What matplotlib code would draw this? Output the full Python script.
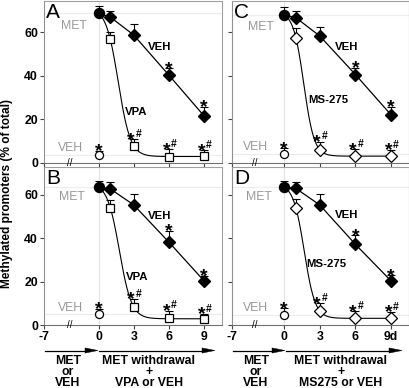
import numpy as np
import matplotlib
matplotlib.use("Agg")
import matplotlib.pyplot as plt
from matplotlib.lines import Line2D
from matplotlib.patches import Polygon
import matplotlib.transforms as mtransforms

plt.rcParams['font.family'] = ['Liberation Sans', 'DejaVu Sans']

# ---------------- data ----------------
days = [1, 3, 6, 9]

A_met, A_met_err = 68.7, 3.3
A_ctl, A_ctl_err = 3.5, 2.0
A_veh = [67.0, 58.7, 40.2, 21.4]
A_veh_err = [3.0, 5.3, 3.3, 4.3]
A_trt = [56.8, 7.6, 2.7, 3.0]
A_trt_err = [3.5, 3.2, 3.5, 2.6]

B_met, B_met_err = 63.5, 3.0
B_ctl, B_ctl_err = 4.9, 2.5
B_veh = [62.8, 55.4, 38.2, 20.3]
B_veh_err = [3.2, 5.1, 5.2, 2.3]
B_trt = [54.1, 8.4, 3.1, 2.6]
B_trt_err = [3.6, 3.6, 3.5, 2.5]

C_met, C_met_err = 68.0, 3.5
C_ctl, C_ctl_err = 3.8, 2.7
C_veh = [66.7, 58.3, 40.5, 21.9]
C_veh_err = [3.1, 4.3, 3.2, 3.8]
C_trt = [57.5, 5.8, 3.0, 3.0]
C_trt_err = [4.3, 3.8, 3.1, 2.8]

D_met, D_met_err = 63.5, 3.0
D_ctl, D_ctl_err = 4.6, 3.1
D_veh = [63.0, 55.4, 37.2, 20.3]
D_veh_err = [3.0, 5.1, 4.3, 2.7]
D_trt = [54.1, 6.5, 3.1, 3.1]
D_trt_err = [3.9, 3.5, 3.3, 3.0]

veh_star_days = [6, 9]
trt_star_days = [3, 6, 9]

bottom_ticks_left = ['-7', '0', '3', '6', '9']
bottom_ticks_right = ['-7', '0', '3', '6', '9d']

W, H = 410, 388
fig = plt.figure(figsize=(W / 100, H / 100), dpi=100)


def px_axes(l, t, r, b):
    return fig.add_axes([l / W, 1 - b / H, (r - l) / W, (b - t) / H])


def logistic_fit(x, y):
    x = np.asarray(x, float)
    y = np.asarray(y, float)
    best = None
    for c in np.linspace(0.5, 3.0, 126):
        for s in np.linspace(0.1, 1.5, 71):
            f = 1 / (1 + np.exp((x - c) / s))
            M = np.vstack([np.ones_like(f), f]).T
            coef = np.linalg.lstsq(M, y, rcond=None)[0]
            err = np.sum((M @ coef - y) ** 2)
            if best is None or err < best[0]:
                best = (err, c, s, coef)
    _, c, s, coef = best
    return lambda xx: coef[0] + coef[1] / (1 + np.exp((np.asarray(xx) - c) / s))


def star(ax, x, y, dx=0):
    ax.annotate('*', (x, y), xytext=(dx, -4.0), textcoords='offset points',
                ha='center', va='baseline', fontsize=14, fontweight='bold', zorder=6)


def starhash(ax, x, y):
    ax.annotate('*', (x, y), xytext=(-1.8, -4.0), textcoords='offset points',
                ha='center', va='baseline', fontsize=14, fontweight='bold', zorder=6)
    ax.annotate('#', (x, y), xytext=(1.4, 1.6), textcoords='offset points',
                ha='left', va='baseline', fontsize=7.5, fontweight='bold', zorder=6)


def panel(ax, letter, met, met_err, ctl, ctl_err, veh, veh_err, trt, trt_err,
          trt_marker, trt_label, lab_pos, xlim, ylim, left, bottom, ticklabels):
    ax.set_xlim(*xlim)
    ax.set_ylim(*ylim)
    for sp in ax.spines.values():
        sp.set_color('#a0a0a0')
        sp.set_linewidth(0.8)
    ax.spines['bottom'].set_color('#707070')
    ax.spines['left'].set_color('#909090')

    # faint reference lines
    ax.axvline(0, color='#e4e4e4', lw=0.8, zorder=0)
    ax.axhline(met, color='#ececec', lw=0.8, zorder=0)
    ax.axhline(ctl, color='#ececec', lw=0.8, zorder=0)

    # VEH straight line
    ax.plot([0] + days, [met] + veh, color='k', lw=0.9, zorder=2)
    # treatment fitted curve
    fit = logistic_fit([0] + days, [met] + trt)
    xs = np.linspace(0, 9, 400)
    ax.plot(xs, fit(xs), color='k', lw=0.8, zorder=2)

    # error bars (upper only)
    ek = dict(fmt='none', ecolor='k', elinewidth=0.8, capsize=2.6, capthick=0.8, zorder=2.5)
    ax.errorbar(days, veh, yerr=[np.zeros(4), veh_err], **ek)
    ax.errorbar(days, trt, yerr=[np.zeros(4), trt_err], **ek)
    ax.errorbar([0], [met], yerr=[[0], [met_err]], **ek)
    ax.errorbar([0], [ctl], yerr=[[0], [ctl_err]], **ek)

    ax.plot(days, veh, ls='none', marker='D', ms=6.0, mfc='k', mec='k', zorder=4)
    if trt_marker == 's':
        ax.plot(days, trt, ls='none', marker='s', ms=6.0, mfc='white', mec='k', mew=0.9, zorder=4)
    else:
        ax.plot(days, trt, ls='none', marker='D', ms=6.0, mfc='white', mec='k', mew=0.9, zorder=4)
    ax.plot([0], [met], ls='none', marker='o', ms=7.2, mfc='k', mec='k', zorder=5)
    ax.plot([0], [ctl], ls='none', marker='o', ms=5.8, mfc='white', mec='k', mew=0.9, zorder=5)

    # significance marks
    star(ax, 0, ctl + ctl_err)
    for d in veh_star_days:
        i = days.index(d)
        star(ax, d, veh[i] + veh_err[i])
    for d in trt_star_days:
        i = days.index(d)
        starhash(ax, d, trt[i] + trt_err[i])

    # labels
    (vx, vy), (tx, ty), (mx, my), (cx, cy) = lab_pos
    ax.text(vx, vy, 'VEH', ha='center', va='center', fontsize=8.2, fontweight='bold')
    ax.text(tx, ty, trt_label, ha='center', va='center', fontsize=8.2, fontweight='bold')
    ax.text(mx, my, 'MET', ha='center', va='center', fontsize=8.8, color='#999999')
    ax.text(cx, cy, 'VEH', ha='center', va='center', fontsize=8.8, color='#999999')
    ax.text(0.012, 1 - 17.5 / (ax.bbox.height), letter, transform=ax.transAxes,
            ha='left', va='baseline', fontsize=15)

    # axis break
    trans = mtransforms.blended_transform_factory(ax.transData, ax.transAxes)
    ax.text(-2.42, 0.0, '//', transform=trans, ha='center', va='center',
            fontsize=7, clip_on=False, zorder=7)

    ax.set_yticks([0, 20, 40, 60])
    ax.set_xticks([xlim[0], 0, 3, 6, 9])
    ax.tick_params(direction='out', length=2.6, width=0.8, color='#444444', pad=1.8,
                   labelsize=8.8)
    if left:
        ax.set_yticklabels(['0', '20', '40', '60'], fontweight='bold')
    else:
        ax.set_yticklabels([])
    if bottom:
        ax.set_xticklabels(ticklabels, fontweight='bold')
    else:
        ax.set_xticklabels([])


axA = px_axes(44, 1, 222, 162.5)
axB = px_axes(44, 167, 222, 325)
axC = px_axes(232, 1, 409, 162.5)
axD = px_axes(232, 167, 409, 325)

panel(axA, 'A', A_met, A_met_err, A_ctl, A_ctl_err, A_veh, A_veh_err, A_trt, A_trt_err,
      's', 'VPA', [(5.24, 53.2), (3.24, 23.3), (-2.1, 63.0), (-2.4, 6.7)],
      (-4.65, 10.52), (0, 74.4), True, False, None)
panel(axB, 'B', B_met, B_met_err, B_ctl, B_ctl_err, B_veh, B_veh_err, B_trt, B_trt_err,
      's', 'VPA', [(5.24, 50.3), (3.28, 22.2), (-2.3, 59.2), (-2.4, 7.7)],
      (-4.65, 10.52), (0, 72.9), True, True, bottom_ticks_left)
panel(axC, 'C', C_met, C_met_err, C_ctl, C_ctl_err, C_veh, C_veh_err, C_trt, C_trt_err,
      'D', 'MS-275', [(5.3, 53.4), (3.75, 28.8), (-1.95, 62.6), (-2.38, 7.3)],
      (-4.37, 10.5), (0, 74.4), False, False, None)
panel(axD, 'D', D_met, D_met_err, D_ctl, D_ctl_err, D_veh, D_veh_err, D_trt, D_trt_err,
      'D', 'MS-275', [(5.3, 50.8), (3.57, 28.0), (-2.1, 59.2), (-2.4, 8.0)],
      (-4.37, 10.5), (0, 72.9), False, True, bottom_ticks_right)

fig.text(7 / W, 1 - 194 / H, 'Methylated promoters (% of total)', rotation=90,
         ha='center', va='center', fontsize=8.6, fontweight='bold')


# bottom arrows and annotations (figure pixel coordinates)
def fig_arrow(x0, x1, y, head=13, hh=2.6):
    fig.add_artist(Line2D([x0 / W, (x1 - head + 1) / W], [1 - y / H, 1 - y / H],
                          color='k', lw=0.9, transform=fig.transFigure))
    fig.add_artist(Polygon([[(x1 - head) / W, 1 - (y - hh) / H],
                            [x1 / W, 1 - y / H],
                            [(x1 - head) / W, 1 - (y + hh) / H]], closed=True,
                           facecolor='k', edgecolor='k', lw=0.3, transform=fig.transFigure))


ay = 350.5
fig_arrow(45, 98, ay)
fig_arrow(99, 215, ay)
fig_arrow(233, 285, ay)
fig_arrow(286, 402, ay)


def fblock(x, y, s):
    fig.text(x / W, 1 - y / H, s, ha='center', va='center', fontsize=8.8,
             fontweight='bold', linespacing=0.92, multialignment='center')


fblock(68, 372, 'MET\nor\nVEH')
fblock(149, 372, 'MET withdrawal\n+\nVPA or VEH')
fblock(256, 372, 'MET\nor\nVEH')
fblock(341, 372, 'MET withdrawal\n+\nMS275 or VEH')

fig.savefig('out.png', dpi=100)
